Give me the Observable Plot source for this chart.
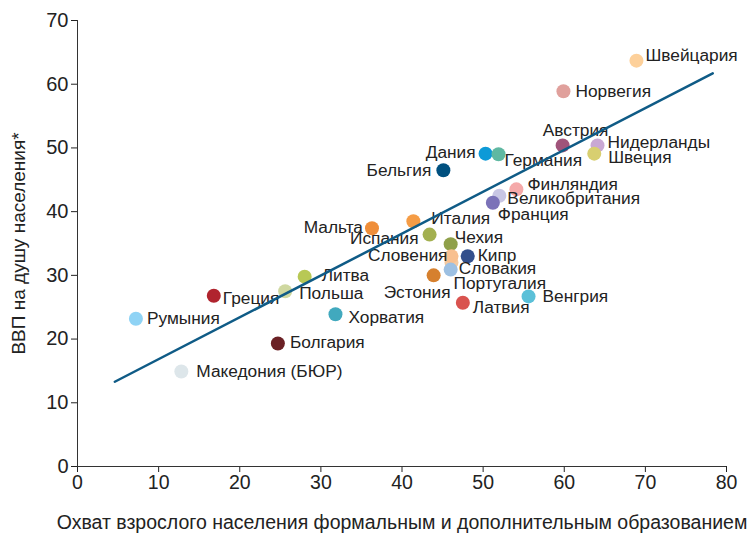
<!DOCTYPE html>
<html><head><meta charset="utf-8">
<script src="https://cdn.jsdelivr.net/npm/d3@7"></script>
<script src="https://cdn.jsdelivr.net/npm/@observablehq/plot@0.6"></script>
<style>
body{margin:0;background:#fff}
</style>
</head><body><div id="chart"></div>
<script>
const countries = ["Португалия","Швейцария","Норвегия","Австрия","Нидерланды","Швеция","Дания","Германия","Бельгия","Финляндия","Великобритания","Франция","Мальта","Италия","Испания","Чехия","Словения","Кипр","Словакия","Эстония","Литва","Польша","Греция","Румыния","Хорватия","Болгария","Македония (БЮР)","Латвия","Венгрия"];
const coverage = [46.1,68.9,59.9,59.8,64.1,63.7,50.3,51.9,45.1,54.1,52.0,51.2,36.3,41.4,43.4,46.0,46.1,48.1,46.0,43.9,28.0,25.6,16.8,7.2,31.8,24.7,12.8,47.5,55.6];
const gdp = [32.0,63.7,58.9,50.4,50.4,49.1,49.1,49.0,46.5,43.5,42.5,41.4,37.4,38.5,36.4,34.9,33.0,33.0,30.9,30.0,29.8,27.5,26.8,23.2,23.9,19.3,14.9,25.7,26.7];
const palette = ["#f3c9a0","#fdd09a","#e0a09c","#a0547a","#c9a8d4","#d8cf70","#0e9ad7","#5fb8a2","#00507f","#f5a9a9","#c8c6e4","#7b72b8","#ef8e3a","#f59c45","#a3b050","#8fa04a","#f8c090","#34508c","#9dc0e2","#d6802e","#b8c855","#cfd8a0","#b0242e","#8fd3f5","#41a9be","#6b2125","#dde6ea","#d9534f","#5bc0d8"];
// label placement: [textAnchor, dx, dy]
const labelLayout = [["start",2,21],["start",9,-5],["start",12,0],["middle",13,-15],["start",10,-3],["start",14,4],["end",-10,-1],["start",6,6],["end",-12,0],["start",11,-5],["start",8,3],["start",5,12],["end",-9,-1],["start",18,-3],["end",-11,4],["start",4,-7],["end",-4,-1],["start",10,-1],["start",8,-1],["end",17,17],["start",17,-1],["start",14,2],["start",9,3],["start",11,0],["start",13,3],["start",12,-1],["start",15,0],["start",10,5],["start",14,0]];
const trendX = [4.6, 78.3];
const trendY = [13.3, 61.7];
const xTicks = [0,10,20,30,40,50,60,70,80];
const yTicks = [0,10,20,30,40,50,60,70];
const xTitle = "Охват взрослого населения формальным и дополнительным образованием";
const yTitle = "ВВП на душу населения*";

const data = countries.map((name,i)=>({name, x:coverage[i], y:gdp[i], color:palette[i], anchor:labelLayout[i][0], dx:labelLayout[i][1], dy:labelLayout[i][2]}));
const trend = trendX.map((x,i)=>({x, y:trendY[i]}));

const labelMarks = data.map(d => Plot.text([d], {x:"x", y:"y", text:"name", textAnchor:d.anchor, dx:d.dx, dy:d.dy, fill:"#222", fontSize:17.3}));

const chart = Plot.plot({
  width:751, height:533,
  marginLeft:77, marginRight:25, marginTop:20, marginBottom:67,
  style:{fontFamily:'"Liberation Sans Narrow","Arial Narrow","Liberation Sans",Arial,sans-serif', fontSize:"20px", color:"#222", background:"#fff"},
  x:{domain:[0,80]},
  y:{domain:[0,70]},
  marks:[
    Plot.axisX({ticks:xTicks, tickSize:6, tickPadding:3, label:xTitle, labelAnchor:"center", labelOffset:62, labelArrow:"none", fontSize:19.5}),
    Plot.axisY({ticks:yTicks, tickSize:6, tickPadding:3, label:null, fontSize:20}),
    Plot.ruleX([0], {stroke:"#333"}),
    Plot.ruleY([0], {stroke:"#333"}),
    Plot.text([yTitle], {frameAnchor:"left", text:d=>d, textAnchor:"middle", rotate:-90, dx:-59, fill:"#222", fontSize:19}),
    Plot.dot(data, {x:"x", y:"y", r:7, fill:"color", stroke:"none"}),
    ...labelMarks,
    Plot.line(trend, {x:"x", y:"y", stroke:"#0f5b86", strokeWidth:2.5})
  ]
});
document.getElementById("chart").append(chart);
</script>
</body></html>
